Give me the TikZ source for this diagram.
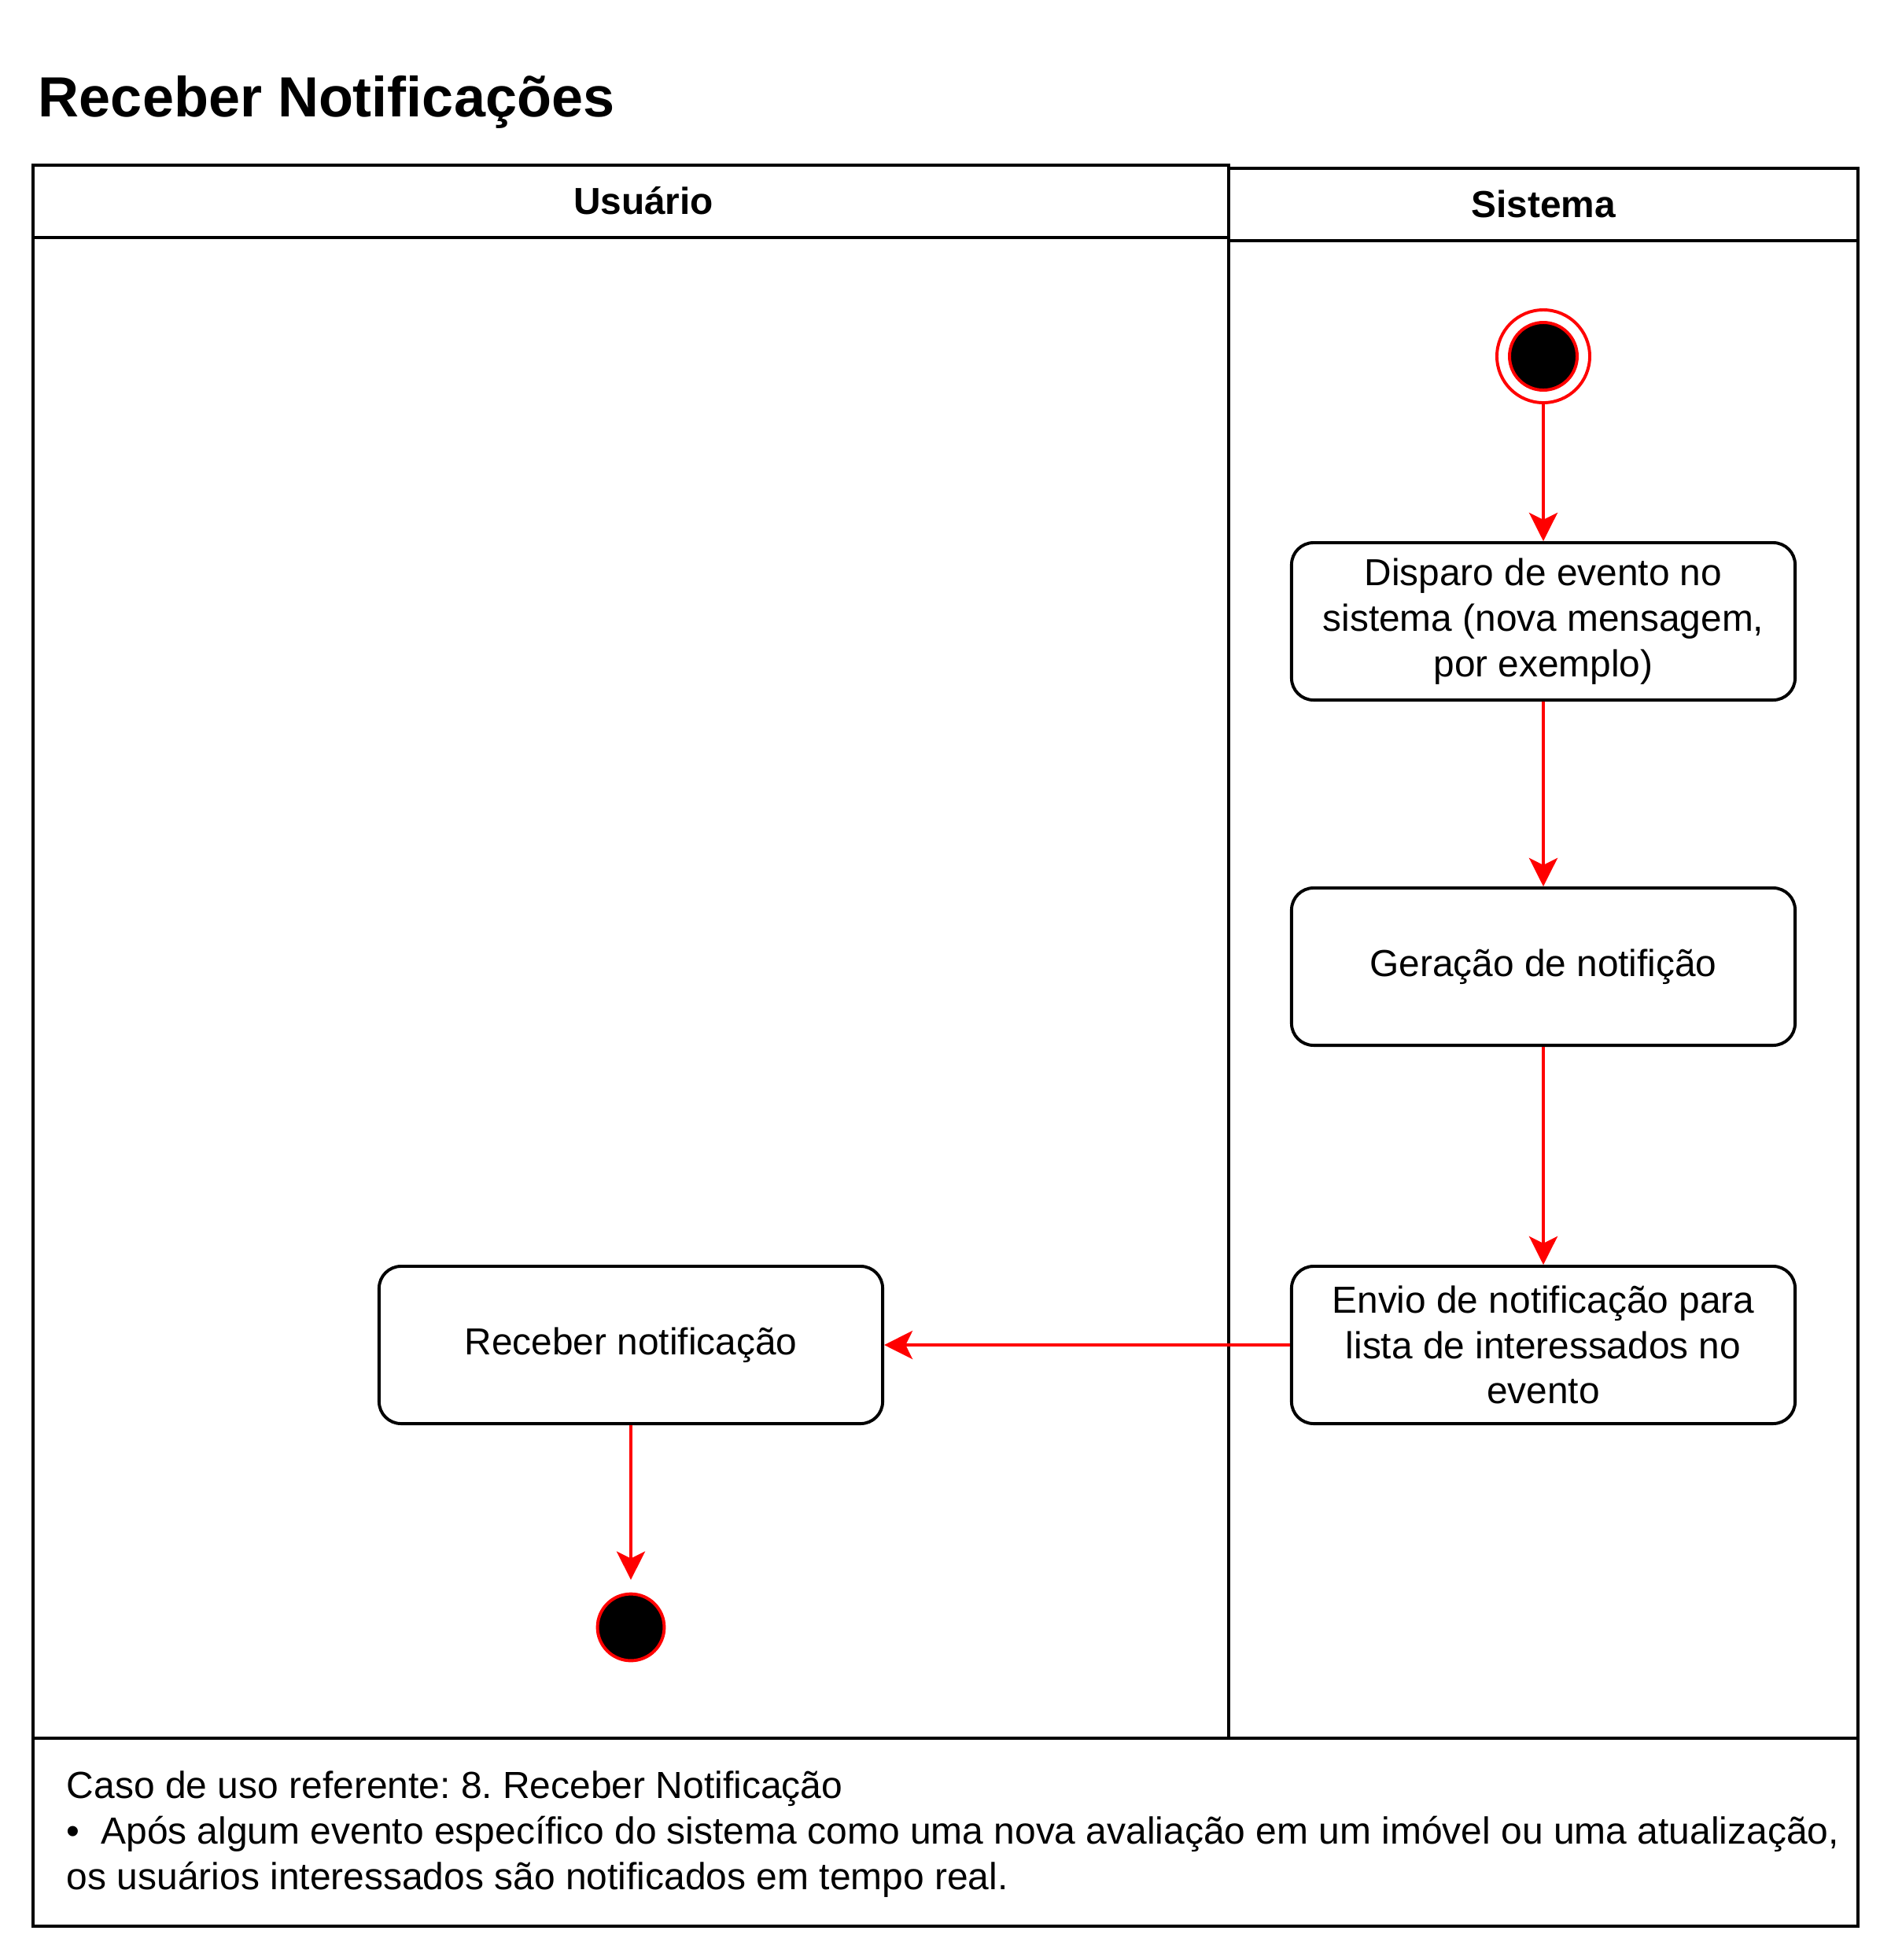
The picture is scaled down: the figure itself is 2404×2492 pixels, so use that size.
\documentclass[tikz,border=0pt]{standalone}
\usepackage{fontspec}
\setmainfont{Liberation Sans}
\usepackage{tikz}
\usetikzlibrary{arrows.meta, positioning}
\frenchspacing

\begin{document}
\begin{tikzpicture}[x=0.0125cm, y=-0.0125cm, line width=1.4pt,
        activity/.style={draw, rounded corners=0.35cm, minimum width=8cm, minimum height=2.5cm,
            inner sep=0pt, align=center, font=\fontsize{17}{20.5}\selectfont},
        startring/.style={circle, draw=red, fill=white, minimum size=1.475cm, inner sep=0pt},
        dot/.style={circle, draw=red, fill=black, minimum size=1.075cm, inner sep=0pt},
        lanetitle/.style={anchor=base, inner sep=0pt, font=\bfseries\fontsize{17}{20.5}\selectfont},
        flow/.style={draw=red, -{Stealth[length=0.45cm, width=0.45cm, inset=0.11cm]}}]

                \useasboundingbox (0,0) rectangle (2404,2492);

                \node[anchor=base west, inner sep=0pt, font=\bfseries\fontsize{25.6}{30}\selectfont] (titulo) at (47,148) {Receber Notificações};

                % raias
                \draw (42,210) rectangle (1562,2210);
                \draw (42,302) -- (1562,302);
                \draw (1562,214) rectangle (2362,2210);
                \draw (1562,306) -- (2362,306);
                \draw (42,2210) rectangle (2362,2449);
                \node[lanetitle] (usuario) at (818,272) {Usuário};
                \node[lanetitle] (sistema) at (1962,276) {Sistema};

                \node[startring] (inicio) at (1962,453) {};
                \node[dot] (iniciodot) at (inicio) {};
                \node[activity] (disparo) at (1962,790) {Disparo de evento no\\sistema (nova mensagem,\\por exemplo)};
                \node[activity] (geracao) at (1962,1229) {Geração de notifição};
                \node[activity] (envio) at (1962,1710) {Envio de notificação para\\lista de interessados no\\evento};
                \node[activity] (receber) at (802,1710) {Receber notificação};
                \node[dot, minimum size=1.06cm] (fim) at (802,2069) {};

                \node[anchor=west, inner sep=0pt, align=left, font=\fontsize{17.05}{20.5}\selectfont] (nota) at (83,2332)
                    {Caso de uso referente: 8. Receber Notificação\\
                     •~ Após algum evento específico do sistema como uma nova avaliação em um imóvel ou uma atualização,\\
                     os usuários interessados são notificados em tempo real.};

                \draw[flow] (inicio) -- (disparo);
                \draw[flow] (disparo) -- (geracao);
                \draw[flow] (geracao) -- (envio);
                \draw[flow] (envio) -- (receber);
                \draw[flow, shorten >=0.2cm] (receber) -- (fim);
            \end{tikzpicture}
\end{document}
